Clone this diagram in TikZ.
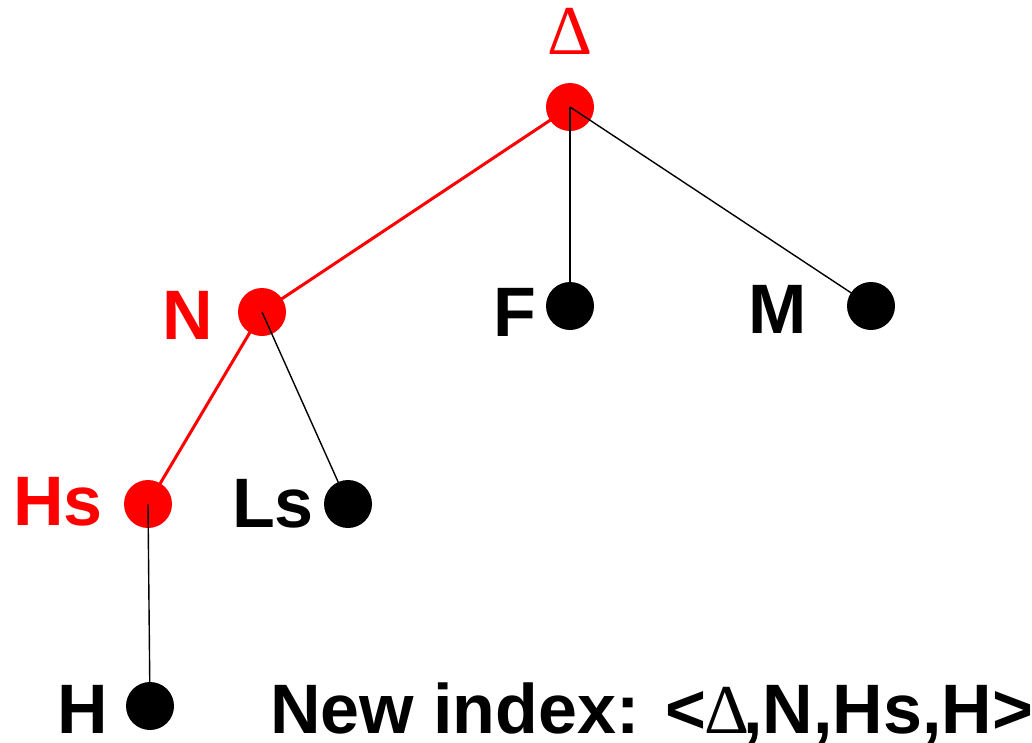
\documentclass[tikz,border=0pt]{standalone}
\usepackage{fontspec}
\setmainfont{Liberation Sans}
\newfontfamily\greekfont{Liberation Serif}
\definecolor{pathred}{RGB}{255,0,0}
\tikzset{
  dot/.style={circle,fill=#1,draw=none,minimum size=48pt,inner sep=0pt,outer sep=0pt},
  dot/.default=black,
  lbl/.style={anchor=base west,inner sep=0pt,outer sep=0pt,text=#1,
    font=\fontsize{70}{84}\selectfont\bfseries},
  lbl/.default=black,
  pathedge/.style={draw=pathred,line width=3pt},
  treeedge/.style={draw=black,line width=1.4pt}
}
\begin{document}
\begin{tikzpicture}[x=1pt,y=-1pt]
\useasboundingbox (0,0) rectangle (1032,742);

% tree vertices
\node[dot=pathred] (root) at (570,107) {};
\node[dot=pathred] (n)  at (262,312) {};
\node[dot]         (f)  at (570,306) {};
\node[dot]         (m)  at (871,306) {};
\node[dot=pathred] (hs) at (148,504) {};
\node[dot]         (ls) at (348,504) {};
\node[dot]         (h)  at (150,706) {};

% edges, drawn from centre to centre over the vertices
\draw[pathedge] (root.center) -- (n.center);
\draw[pathedge] (n.center) -- (hs.center);
\draw[treeedge] (root.center) -- (f.center);
\draw[treeedge] (root.center) -- (m.center);
\draw[treeedge] (n.center) -- (ls.center);
\draw[treeedge] (hs.center) -- (h.center);

% vertex labels
\node[anchor=base,inner sep=0pt,text=pathred,font=\fontsize{70}{84}\selectfont\greekfont] (rootlbl) at (570,54) {Δ};
\node[lbl=pathred] (nlbl)  at (162,339) {N};
\node[lbl]         (flbl)  at (493,336) {F};
\node[lbl]         (mlbl)  at (748,333) {M};
\node[lbl=pathred] (hslbl) at (13,525) {Hs};
\node[lbl]         (lslbl) at (232,527) {Ls};
\node[lbl]         (hlbl)  at (57,733) {H};

% resulting index
\node[lbl] (index) at (270,733) {New index: <\kern-2pt{\mdseries\greekfont Δ}\kern-6pt,N,Hs,H>};
\end{tikzpicture}
\end{document}
